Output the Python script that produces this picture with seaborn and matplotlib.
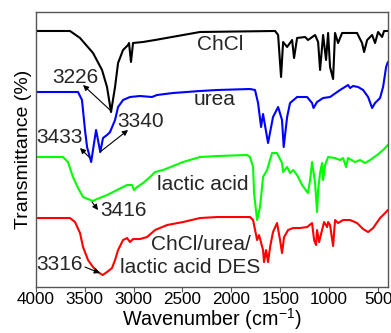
import matplotlib
matplotlib.use("Agg")
import matplotlib.pyplot as plt
import numpy as np
import pandas as pd
import seaborn as sns

# FTIR spectra (wavenumber in cm^-1, transmittance in arbitrary stacked units)
chcl_wn = [4000, 3649, 3547, 3414, 3322, 3271, 3230, 3189, 3158, 3107, 3056, 3046, 3026, 3005,
           2903, 2780, 2320, 1553, 1522, 1492, 1471, 1430, 1379, 1359, 1328, 1246, 1216, 1144,
           1113, 1093, 1062, 1032, 1011, 991, 960, 940, 909, 868, 715, 664, 643, 612, 561, 531,
           500, 459, 439, 400]
chcl_t = [256, 256, 249, 234, 217, 200, 175, 200, 224, 237, 242, 244, 225, 244,
          245, 247, 255, 256, 252, 210, 245, 240, 247, 229, 249, 250, 247, 252,
          245, 217, 252, 227, 254, 220, 208, 254, 244, 254, 254, 244, 235, 247, 252, 244,
          255, 250, 256, 256]

urea_wn = [4000, 3567, 3527, 3496, 3475, 3433, 3383, 3340, 3312, 3271, 3240, 3189, 3158, 3107,
           3036, 2934, 2811, 2760, 2596, 2320, 2146, 1809, 1758, 1727, 1696, 1676, 1625, 1574,
           1522, 1482, 1465, 1430, 1400, 1328, 1226, 1175, 1160, 1124, 1062, 991, 889, 807, 786,
           756, 704, 653, 602, 561, 531, 480, 449, 418, 400]
urea_t = [195, 195, 187, 157, 140, 125, 157, 135, 149, 152, 155, 167, 180, 187,
          190, 191, 190, 192, 194, 196, 197, 198, 197, 184, 160, 173, 144, 170,
          180, 167, 140, 170, 184, 190, 190, 184, 179, 185, 189, 190, 197, 202, 199,
          201, 200, 197, 190, 179, 184, 189, 200, 220, 225]

lactic_wn = [4000, 3721, 3670, 3619, 3567, 3516, 3416, 3373, 3271, 3169, 3066, 3015, 2995, 2964,
             2903, 2831, 2780, 2698, 2494, 2320, 2146, 1839, 1809, 1778, 1768, 1737, 1707, 1676,
             1635, 1584, 1533, 1482, 1471, 1430, 1400, 1369, 1328, 1277, 1217, 1195, 1175, 1144,
             1124, 1113, 1093, 1073, 1062, 1042, 1011, 940, 889, 858, 827, 807, 735, 684, 633,
             582, 510, 449, 400]
lactic_t = [130, 130, 125, 110, 99, 90, 86, 88, 92, 97, 102, 102, 97, 100,
            104, 110, 115, 117, 125, 130, 131, 132, 130, 120, 94, 67, 80, 110,
            117, 134, 134, 124, 115, 120, 114, 117, 112, 102, 94, 107, 125, 104,
            75, 97, 114, 124, 107, 122, 130, 129, 127, 129, 120, 129, 125, 127, 124,
            127, 132, 137, 142]

des_wn = [4000, 3649, 3598, 3547, 3516, 3465, 3414, 3363, 3316, 3271, 3220, 3189, 3158, 3107,
          3066, 3036, 3005, 2934, 2862, 2780, 2657, 2494, 2320, 2146, 1809, 1778, 1747, 1737,
          1717, 1676, 1666, 1645, 1625, 1604, 1574, 1533, 1502, 1482, 1461, 1420, 1369, 1298,
          1226, 1175, 1154, 1134, 1124, 1103, 1073, 1052, 1021, 1011, 991, 960, 940, 909, 858,
          786, 715, 653, 602, 551, 480, 428, 400]
des_t = [69, 69, 65, 54, 40, 27, 20, 15, 12, 15, 19, 27, 37, 47,
         49, 45, 48, 48, 50, 57, 62, 65, 69, 70, 70, 67, 52, 47,
         52, 37, 25, 37, 25, 40, 55, 64, 47, 34, 50, 57, 59, 59,
         60, 64, 47, 42, 57, 45, 57, 65, 60, 65, 62, 41, 67, 64, 67,
         67, 64, 58, 55, 59, 69, 74, 77]

names = ["ChCl", "urea", "lactic acid", "ChCl/urea/lactic acid DES"]
colors = ["#000000", "#0000ff", "#00ff00", "#ff0000"]
xticks = [4000, 3500, 3000, 2500, 2000, 1500, 1000, 500]

frames = []
for name, wn, t in zip(names, [chcl_wn, urea_wn, lactic_wn, des_wn],
                       [chcl_t, urea_t, lactic_t, des_t]):
    frames.append(pd.DataFrame({"wn": wn, "T": t, "sample": name}))
df = pd.concat(frames, ignore_index=True)

sns.set_style("ticks")
plt.rcParams["font.family"] = ["Liberation Sans", "DejaVu Sans"]

fig = plt.figure(figsize=(3.91, 3.33), dpi=100)
ax = fig.add_axes([0.0913, 0.138, 0.9007, 0.826])

sns.lineplot(data=df, x="wn", y="T", hue="sample", palette=colors, estimator=None,
             lw=1.5, legend=False, ax=ax)

ax.set_xlim(4000, 400)
ax.set_ylim(0, 275)
ax.set_xticks(xticks)
ax.set_yticks([])
ax.tick_params(axis="x", labelsize=12.3, length=3.5, width=0.8, pad=0,
               color="#555555", labelcolor="black")
ax.set_xlabel(r"Wavenumber (cm$^{\mathregular{-1}}$)", fontsize=14.2, color="black", va="bottom")
ax.xaxis.set_label_coords(0.5, -0.163)
ax.set_ylabel("Transmittance (%)", fontsize=14, color="black")
ax.yaxis.set_label_coords(-0.01, 0.5)
for s in ax.spines.values():
    s.set_visible(True)
    s.set_color("#555555")
    s.set_linewidth(1.0)

# sample labels
fs = 15
ax.text(2116, 237, "ChCl", fontsize=fs, ha="center", va="baseline")
ax.text(2167, 182, "urea", fontsize=fs, ha="center", va="baseline")
ax.text(2289, 97, "lactic acid", fontsize=fs, ha="center", va="baseline")
ax.text(2310, 37, "ChCl/urea/", fontsize=fs, ha="center", va="baseline")
ax.text(2421, 14, "lactic acid DES", fontsize=fs, ha="center", va="baseline")

# peak annotations: label, arrow head, arrow tail, text centre
arrow = dict(arrowstyle="-|>", color="k", lw=0.8, mutation_scale=8, shrinkA=0, shrinkB=0)
peaks = [
    ("3226", (3516, 202), (3240, 177), (3598, 210)),
    ("3433", (3547, 139), (3455, 130), (3752, 150)),
    ("3340", (3056, 157), (3343, 135), (2923, 166)),
    ("3416", (3363, 77), (3424, 85), (3107, 77)),
    ("3316", (3343, 14), (3496, 20), (3752, 23)),
]
for label, head, tail, pos in peaks:
    ax.annotate("", xy=head, xytext=tail, arrowprops=arrow)
    ax.text(pos[0], pos[1], label, fontsize=fs, ha="center", va="center")

fig.savefig("out.png", dpi=100)
